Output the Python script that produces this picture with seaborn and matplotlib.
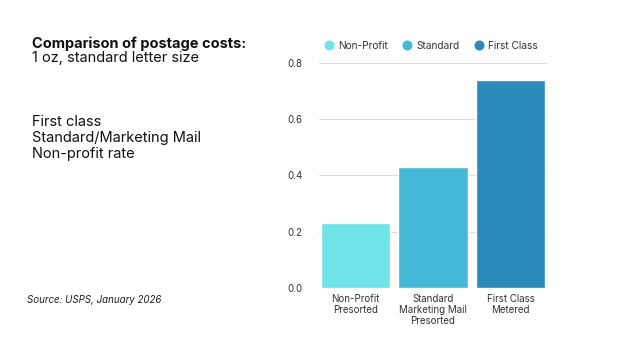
import matplotlib
matplotlib.use("Agg")
import matplotlib.pyplot as plt
import seaborn as sns
import pandas as pd
from matplotlib.lines import Line2D

categories = ["Non-Profit\nPresorted", "Standard\nMarketing Mail\nPresorted", "First Class\nMetered"]
series = ["Non-Profit", "Standard", "First Class"]
values = [0.23, 0.43, 0.74]
colors = ["#6EE4E8", "#45B9D7", "#2B8ABA"]
yticks = [0.0, 0.2, 0.4, 0.6, 0.8]

sns.set_theme(style="white")
plt.rcParams['font.family'] = ['Inter', 'DejaVu Sans']

df = pd.DataFrame({"category": categories, "series": series, "value": values})

fig = plt.figure(figsize=(6.26, 3.42), dpi=100)
ax = fig.add_axes([319/626, 1-288/342, 228/626, 225/342])
sns.barplot(data=df, x="category", y="value", hue="series", palette=colors,
            dodge=False, width=0.9, legend=False, ax=ax, saturation=1)
ax.set_xlim(-0.47, 2.47)
ax.set_ylim(0, 0.8)
ax.set_yticks(yticks)
ax.set_yticklabels([f"{t:.1f}" for t in yticks])
ax.yaxis.grid(True, color="#DDDDDD", linewidth=0.8)
ax.set_axisbelow(True)
for s in ax.spines.values():
    s.set_visible(False)
ax.set_xlabel("")
ax.set_ylabel("")
ax.tick_params(axis="both", length=0, labelsize=7, colors="#333333")
ax.tick_params(axis="y", pad=12)
ax.tick_params(axis="x", pad=4)
for lbl in ax.get_xticklabels():
    lbl.set_linespacing(1.15)

handles = [Line2D([0], [0], marker="o", linestyle="", markersize=6.2,
                  markerfacecolor=c, markeredgecolor=c) for c in colors]
fig.legend(handles, series, loc="center", bbox_to_anchor=(431/626, 1-46/342),
           ncol=3, frameon=False, fontsize=7.3, handletextpad=0.45, columnspacing=1.5,
           handlelength=0.9, labelcolor="#333333")

fig.text(32/626, 1-44/342, "Comparison of postage costs:", fontsize=10.5,
         fontweight="bold", ha="left", va="center", color="#111111")
fig.text(32/626, 1-58/342, "1 oz, standard letter size", fontsize=10.5,
         ha="left", va="center", color="#111111")
fig.text(32/626, 1-122/342, "First class", fontsize=10.5, ha="left", va="center", color="#111111")
fig.text(32/626, 1-138/342, "Standard/Marketing Mail", fontsize=10.5, ha="left", va="center", color="#111111")
fig.text(32/626, 1-154/342, "Non-profit rate", fontsize=10.5, ha="left", va="center", color="#111111")
fig.text(27/626, 1-300/342, "Source: USPS, January 2026", fontsize=7, style="italic",
         ha="left", va="center", color="#222222")

fig.savefig("out.png", dpi=100)
